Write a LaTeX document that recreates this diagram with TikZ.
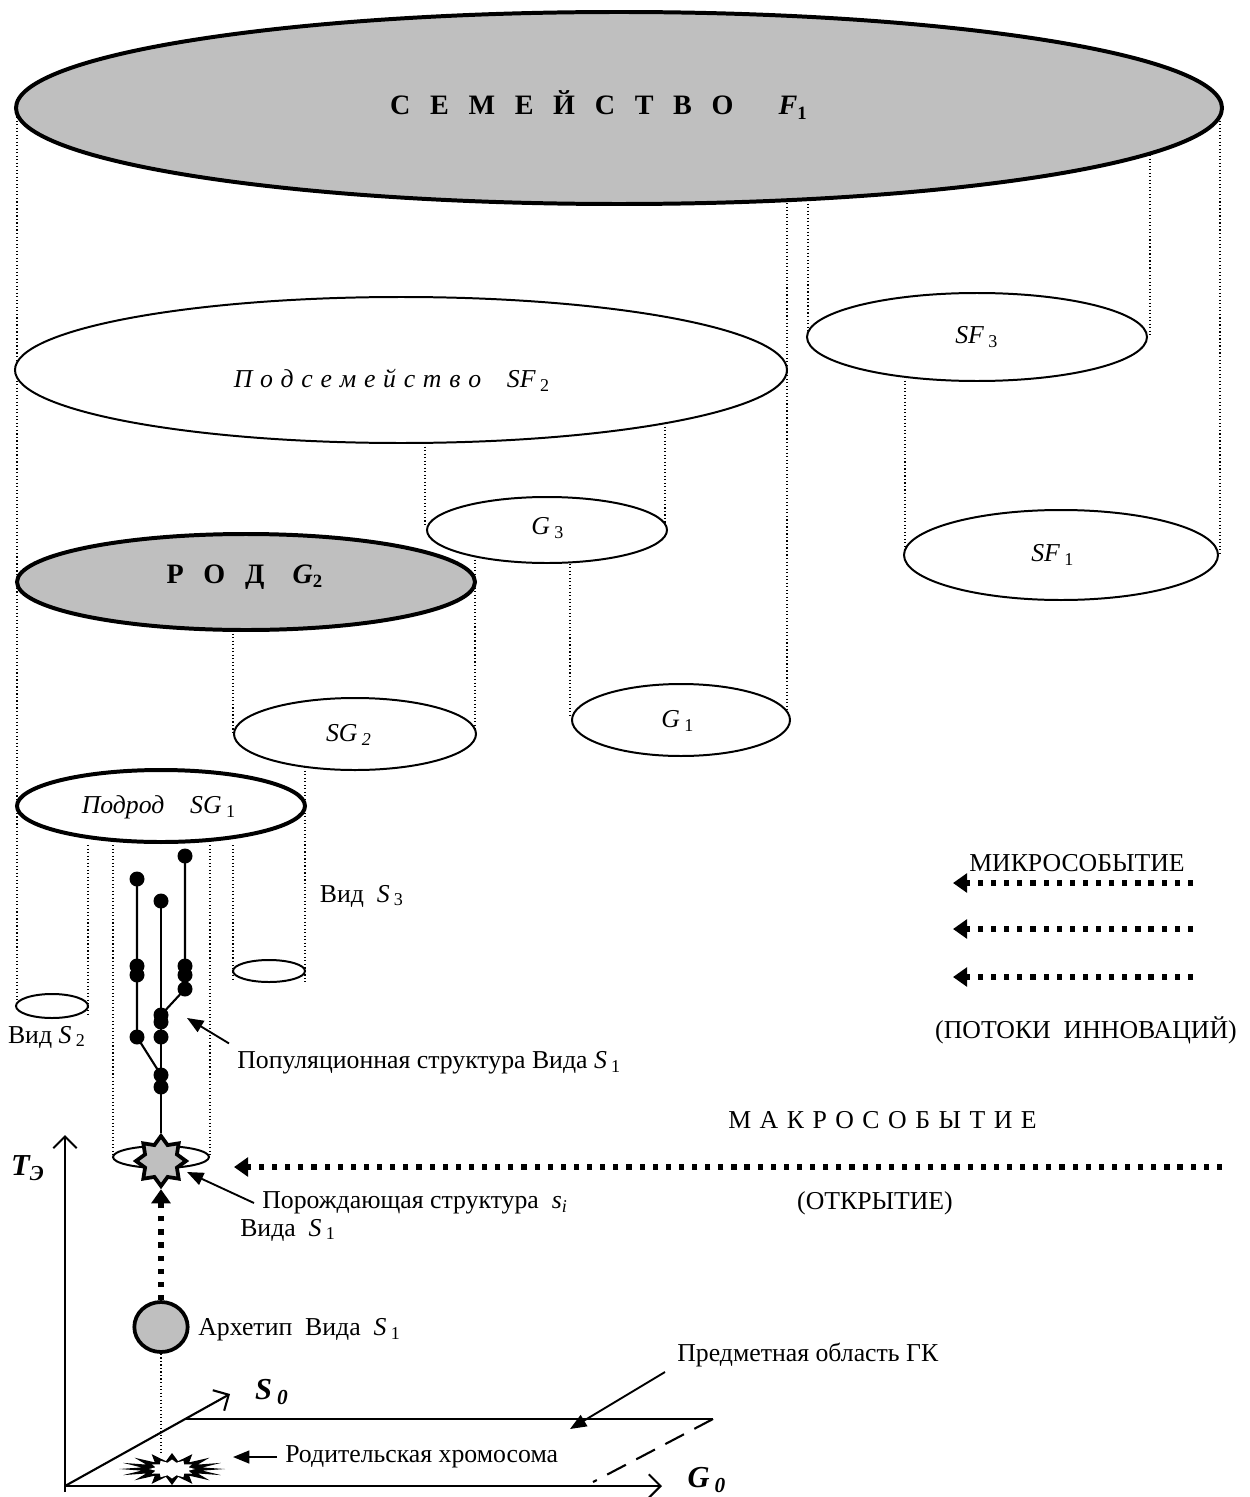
\documentclass[tikz,border=0pt]{standalone}
\usepackage{fontspec}
\setmainfont{Liberation Serif}
\usepackage{tikz}
\usetikzlibrary{arrows.meta}
\usetikzlibrary{shapes.geometric}

\newcommand{\lowix}[1]{\,\textsubscript{#1}}

\tikzset{
  guide/.style={densely dotted, line width=0.5pt},
  taxon/.style={line width=0.85pt, fill=white},
  bigtaxon/.style={line width=1.7pt},
  flow/.style={line width=2.2pt, dash pattern=on 2.2pt off 3.4pt, -{Triangle[length=6pt,width=8pt]}},
  leader/.style={line width=0.8pt, -{Triangle[length=7pt,width=5.5pt]}},
  axis/.style={line width=0.9pt, -{Straight Barb[length=5pt,width=10pt]}},
  twig/.style={line width=0.9pt},
}

\begin{document}
\begin{tikzpicture}[x=0.015cm, y=-0.015cm, font=\fontsize{11}{13}\selectfont]
            % Page frame in pixel units of the scheme
            \useasboundingbox (0,0) rectangle (1250,1497);
            \def\gap{\hspace{.7em}}  % gap in the spaced headings
            \def\ngap{\hspace{.33em}}  % gap in МАКРОСОБЫТИЕ

            % Draw dotted guide lines between the levels
            \foreach \x/\ya/\yb in {17/117/1007, 1220/117/555, 1150/155/337, 808/200/337,
                                    787/203/730, 905/377/555, 425/443/527, 665/423/530,
                                    570/560/718, 475/549/733, 233/630/733, 305/767/982,
                                    233/845/982, 88/845/1017, 113/845/1157, 210/845/1157}
              \draw[guide] (\x,\ya) -- (\x,\yb);

            % Draw the taxa ellipses
            \draw[bigtaxon, fill=gray!50] (619,108) ellipse [x radius=603, y radius=96];
            \draw[taxon] (401,370) ellipse [x radius=386, y radius=73];
            \draw[taxon] (977,337) ellipse [x radius=170, y radius=44];
            \draw[taxon] (547,530) ellipse [x radius=120, y radius=33];
            \draw[taxon] (1061,555) ellipse [x radius=157, y radius=45];
            \draw[bigtaxon, fill=gray!50] (246,582) ellipse [x radius=229, y radius=48];
            \draw[taxon] (681,720) ellipse [x radius=109, y radius=36];
            \draw[taxon] (355,734) ellipse [x radius=121, y radius=36];
            \draw[bigtaxon, fill=white] (161,806) ellipse [x radius=144, y radius=36];
            \draw[taxon] (269,971) ellipse [x radius=36, y radius=11];
            \draw[taxon] (52,1006) ellipse [x radius=36, y radius=12];
            \draw[taxon] (161,1157) ellipse [x radius=48, y radius=11];

            % Labels of the taxa
            \node (famF1) at (599,105) {\fontsize{12}{14}\selectfont\bfseries
              С\gap Е\gap М\gap Е\gap Й\gap С\gap Т\gap В\gap О\hspace{1.6em}\textit{F}\textsubscript{1}};
            \node (subSF2) at (392,380) {\textit{П\hspace{.3em}о\hspace{.3em}д\hspace{.3em}с\hspace{.3em}е\hspace{.3em}м\hspace{.3em}е\hspace{.3em}й\hspace{.3em}с\hspace{.3em}т\hspace{.3em}в\hspace{.3em}о\quad SF}\lowix{2}};
            \node (subSF3) at (977,337) {\textit{SF}\lowix{3}};
            \node (subSF1) at (1053,555) {\textit{SF}\lowix{1}};
            \node (genG3) at (548,528) {\textit{G}\lowix{3}};
            \node (genG2) at (245,577) {\fontsize{12}{14}\selectfont\bfseries
              Р\hspace{.7em}О\hspace{.7em}Д\hspace{1em}\textit{G}\textsubscript{2}};
            \node (genG1) at (678,721) {\textit{G}\lowix{1}};
            \node (sgSG2) at (349,735) {\textit{SG}\lowix{\textit{2}}};
            \node (sgSG1) at (159,807) {\textit{Подрод\quad SG}\lowix{1}};
            \node (vidS3) at (362,896) {Вид\ \ \textit{S}\lowix{3}};
            \node (vidS2) at (47,1037) {Вид \textit{S}\lowix{2}};

            % Draw population structure of the species
            \node[star, star points=8, star point ratio=1.45, minimum size=0.75cm, inner sep=0pt,
                  draw, line width=1.6pt, fill=gray!50] (core) at (161,1161) {};
            \draw[twig] (185,856) -- (185,989) -- (161,1015);
            \draw[twig] (137,879) -- (137,1037) -- (161,1075);
            \draw[twig] (161,901) -- (161,1087) -- (core.north);
            \foreach \x/\y in {185/856, 137/879, 161/901, 137/966, 137/975, 185/966, 185/975, 185/989,
                               161/1015, 161/1022, 137/1037, 161/1037, 161/1075, 161/1087}
              \fill (\x,\y) circle [radius=7.5];

            % Archetype and parent chromosome
            \node[ellipse, draw, line width=1.6pt, fill=gray!50, minimum width=0.8cm, minimum height=0.75cm,
                  inner sep=0pt] (arch) at (161,1327) {};
            \coordinate (burst) at (172,1469);
            \draw[guide] (arch.south) -- (161,1455);
            \fill plot[samples at={0,...,31}, variable=\k]
              ({172+(42+11*cos(180*\k))*cos(11.25*\k)}, {1469+(12+4*cos(180*\k))*sin(11.25*\k)}) -- cycle;
            \fill[white] plot[samples at={0,...,23}, variable=\k]
              ({172+(20+3*cos(180*\k))*cos(15*\k)}, {1469+(8+1.5*cos(180*\k))*sin(15*\k)}) -- cycle;
            \draw[flow] (arch.north) -- (core.south);

            % Axes and the subject domain plane
            \coordinate (O) at (65,1486);
            \draw[axis] (65,1492) -- (65,1135);
            \draw[axis] (O) -- (662,1486);
            \draw[axis] (O) -- (230,1394);
            \draw[line width=0.9pt] (185,1419) -- (713,1419);
            \draw[line width=0.9pt, dash pattern=on 9pt off 5pt] (713,1419) -- (593,1482);
            \node (axT) at (28,1168) {\fontsize{13}{15}\selectfont\bfseries\itshape T\textsubscript{Э}};
            \node (axS) at (272,1392) {\fontsize{13}{15}\selectfont\bfseries\itshape S\,\textsubscript{0}};
            \node (axG) at (707,1480) {\fontsize{13}{15}\selectfont\bfseries\itshape G\,\textsubscript{0}};

            % Innovation flows
            \foreach \y in {883, 929, 977}
              \draw[flow] (1193,\y) -- (953,\y);
            \node (micro) at (1077,863) {МИКРОСОБЫТИЕ};
            \node (streams) at (1086,1030) {(ПОТОКИ\ \ ИННОВАЦИЙ)};
            \coordinate (macrostart) at (1222,1167);
            \draw[flow] (macrostart) -- (234,1167);
            \node[anchor=west] (macro) at (720,1120) {М\ngap А\ngap К\ngap Р\ngap О\ngap С\ngap О\ngap Б\ngap Ы\ngap Т\ngap И\ngap Е};
            \node (opening) at (875,1203) {(ОТКРЫТИЕ)};

            % Callouts
            \coordinate (treetip) at (187,1018);
            \coordinate (coretip) at (187,1172);
            \coordinate (chromtip) at (233,1457);
            \coordinate (planetip) at (570,1429);
            \node[anchor=west] (popul) at (229,1063) {Популяционная структура Вида \textit{S}\lowix{1}};
            \draw[leader] (popul.north west) -- (treetip);
            \node[anchor=west] (genstr) at (254,1203) {Порождающая структура\ \ \textit{s}\textsubscript{\textit{i}}};
            \node[anchor=west] (genvid) at (232,1230) {Вида\ \ \textit{S}\lowix{1}};
            \draw[leader] (genstr.west) -- (coretip);
            \node[anchor=west] (archlbl) at (190,1330) {Архетип\ \ Вида\ \ \textit{S}\lowix{1}};
            \node[anchor=west] (domain) at (669,1355) {Предметная область ГК};
            \draw[leader] (665,1372) -- (planetip);
            \node[anchor=west] (chrom) at (277,1457) {Родительская хромосома};
            \draw[leader] (chrom.west) -- (chromtip);
\end{tikzpicture}
\end{document}
